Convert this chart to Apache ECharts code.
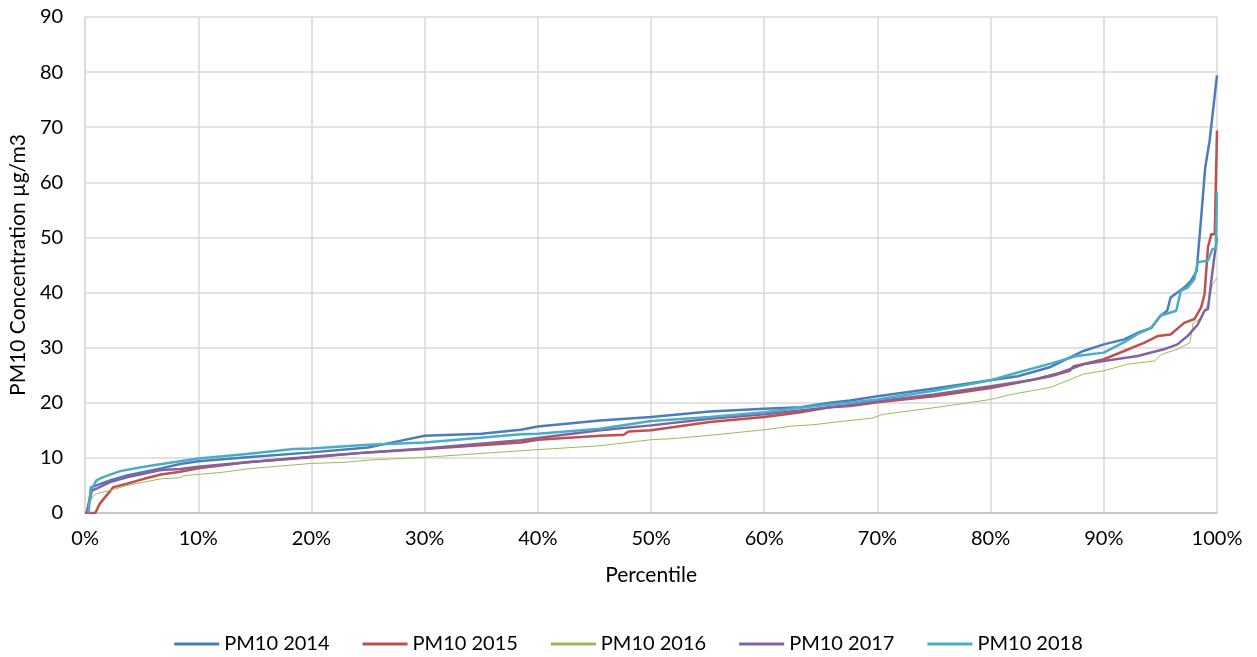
<!DOCTYPE html>
<html>
<head>
<meta charset="utf-8">
<script src="https://cdn.jsdelivr.net/npm/echarts@6/dist/echarts.min.js"></script>
<style>html,body{margin:0;padding:0;background:#fff}#c{width:1257px;height:657px}</style>
</head>
<body>
<div id="c"></div>
<script>
// [percentile %, PM10 µg/m3]
const pm2014 = [[0.15,0],[0.6,4.7],[1,5],[2.2,5.9],[3.7,6.8],[6.7,8.1],[8.4,8.9],[10,9.4],[14.3,10.1],[20,11],[25,11.9],[27.6,13],[30,14],[35,14.4],[38.5,15.1],[40,15.7],[45.5,16.8],[50,17.4],[55.2,18.4],[60,18.9],[63.2,19.2],[65.8,20],[67.6,20.4],[70,21.2],[75,22.6],[80,24.1],[82.4,24.8],[85.3,26.5],[88.2,29.4],[90,30.6],[91.8,31.5],[93,32.7],[94.2,33.6],[95,35.8],[95.6,36.7],[95.9,39.1],[96.5,40],[97.1,40.9],[97.7,42.1],[98.2,43.9],[98.6,53.6],[98.96,62.7],[99.35,67.6],[100,79.4]];
const pm2015 = [[0,0],[0.9,0],[1.3,1.7],[1.9,3.2],[2.5,4.7],[3.7,5.3],[5.2,6.2],[6.7,7],[8.4,7.5],[10,8.1],[14.3,9.2],[20,10.1],[25,11],[30,11.6],[38.5,12.8],[40,13.3],[45.5,14],[47.6,14.2],[48,14.8],[50,15],[55.2,16.5],[60,17.4],[61.4,17.8],[63.2,18.3],[65.8,19.2],[67.6,19.4],[70,20.1],[75,21.2],[80,22.7],[85.3,24.8],[87,25.8],[87.3,26.6],[90,27.9],[91.8,29.4],[93.6,30.9],[94.75,32.1],[95.9,32.4],[97.1,34.5],[98,35.2],[98.6,37.3],[98.9,39.7],[99.2,48.2],[99.5,50.6],[99.8,50.6],[100,69.4]];
const pm2016 = [[0.15,0],[0.6,2.9],[1,3.5],[2.2,4.1],[3.7,5],[6.7,6.2],[8.4,6.4],[8.7,6.8],[10,7],[12.2,7.4],[14.3,8],[20,9],[23,9.2],[25,9.6],[30,10.1],[38.5,11.3],[40,11.5],[45.5,12.2],[50,13.3],[52,13.5],[55.2,14.1],[60,15.1],[62.6,15.8],[64.3,16],[66.7,16.6],[69.5,17.2],[70.5,17.9],[75,19.1],[80,20.6],[81.8,21.5],[85.3,22.8],[88.2,25.2],[90,25.8],[92.1,27],[94.5,27.6],[95.1,28.8],[96.5,29.7],[97.6,30.9],[97.9,34.5],[98.5,35.2],[99.2,37.9],[99.6,41.5],[100,42.7]];
const pm2017 = [[0.15,0],[0.6,4.1],[1,4.4],[2.2,5.6],[3.7,6.5],[6.7,7.8],[8.4,8],[10,8.4],[14.3,9.2],[20,10.2],[25,11],[30,11.7],[38.5,13.2],[40,13.6],[45.5,15],[50,15.9],[55.2,17.1],[60,17.9],[63.2,18.6],[67.6,19.6],[70,20.3],[75,21.5],[80,23],[83.8,24.2],[85.9,25.3],[88.2,27],[90,27.6],[93,28.5],[95.3,29.7],[96.5,30.6],[97.4,32.1],[98.3,34.2],[98.9,36.7],[99.2,37],[99.6,43.9],[100,50]];
const pm2018 = [[0.3,0],[0.5,4.7],[0.7,4.8],[1,5.9],[1.6,6.5],[3.1,7.6],[5.2,8.4],[7.5,9.1],[10,9.9],[14.3,10.7],[18.4,11.6],[20,11.7],[25,12.4],[30,12.8],[38.5,14.3],[40,14.4],[45.5,15.3],[50,16.7],[55.2,17.4],[60,18.3],[63.2,19.1],[65.8,19.7],[67.6,20],[70,20.6],[75,22.2],[80,24.1],[82.4,25.5],[85.3,27.1],[87.6,28.5],[90,29.1],[91.8,31],[93,32.5],[94.2,33.6],[95,35.8],[96.4,36.7],[96.8,40.3],[97.4,40.9],[98,42.4],[98.3,45.5],[99.2,45.8],[99.6,47.9],[99.9,47.9],[100,58.2]];
const seriesNames = ['PM10 2014','PM10 2015','PM10 2016','PM10 2017','PM10 2018'];
const seriesData = [pm2014, pm2015, pm2016, pm2017, pm2018];
const colors = ['#4A7EBB','#C0504D','#9BBB59','#8064A2','#4BACC6'];
const widths = [2.5, 2.5, 1, 2.5, 2.5];
const xTicks = {min:0, max:100, interval:10};
const yTicks = {min:0, max:90, interval:10};
const xTitle = 'Percentile';
const yTitle = 'PM10 Concentration µg/m3';

const FONT = 'Lato';
const chart = echarts.init(document.getElementById('c'), null, {renderer:'canvas'});
chart.setOption({
  animation:false,
  backgroundColor:'#fff',
  color: colors,
  textStyle:{fontFamily:FONT},
  grid:{left:85, right:40, top:17, bottom:144, containLabel:false},
  legend:{
    top:629, left:'center', icon:'rect', itemWidth:45, itemHeight:3, itemGap:33,
    textStyle:{fontFamily:FONT, fontSize:20, color:'#000'},
    data: seriesNames
  },
  xAxis:{
    type:'value', min:xTicks.min, max:xTicks.max, interval:xTicks.interval,
    name:xTitle, nameLocation:'middle', nameGap:52,
    nameTextStyle:{fontFamily:FONT, fontSize:21, color:'#000'},
    axisLine:{show:true, lineStyle:{color:'#bfbfbf', width:1.5}},
    axisTick:{show:false},
    axisLabel:{formatter:'{value}%', fontFamily:FONT, fontSize:20, color:'#000', margin:16},
    splitLine:{show:true, lineStyle:{color:'#d9d9d9', width:1.5}}
  },
  yAxis:{
    type:'value', min:yTicks.min, max:yTicks.max, interval:yTicks.interval,
    name:yTitle, nameLocation:'middle', nameGap:55, nameRotate:90,
    nameTextStyle:{fontFamily:FONT, fontSize:21, color:'#000'},
    axisLine:{show:true, lineStyle:{color:'#d9d9d9', width:1.5}},
    axisTick:{show:false},
    axisLabel:{fontFamily:FONT, fontSize:20, color:'#000', margin:22},
    splitLine:{show:true, lineStyle:{color:'#d9d9d9', width:1.5}}
  },
  series: seriesData.map((d,i)=>({
    name: seriesNames[i], type:'line', data:d, showSymbol:false, symbol:'none',
    lineStyle:{width:widths[i], color:colors[i]}, itemStyle:{color:colors[i]},
    z: 2+i
  }))
});
</script>
</body>
</html>
